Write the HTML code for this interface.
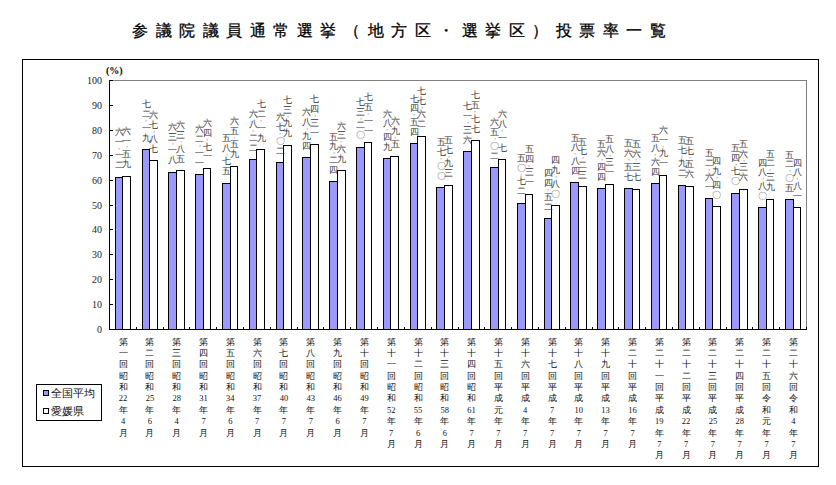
<!DOCTYPE html><html lang="ja"><head><meta charset="utf-8"><style>

*{margin:0;padding:0;box-sizing:border-box}
html,body{width:836px;height:485px;background:#fff;overflow:hidden}
body{position:relative;font-family:"Liberation Sans",sans-serif;color:#000}
.a{position:absolute}
.tc{position:absolute;top:21px;font-size:16px;font-weight:normal;-webkit-text-stroke:0.3px #000;line-height:20px;white-space:nowrap}
.frame{position:absolute;left:22px;top:59px;width:797px;height:408px;border:1px solid #000}
.plot{position:absolute;left:109px;top:80px;width:698px;height:250px;border-top:1px solid #808080;border-right:1px solid #808080}
.yax{position:absolute;left:109px;top:80px;width:1px;height:250px;background:#000}
.xax{position:absolute;left:109px;top:329px;width:698px;height:1px;background:#000}
.yt{position:absolute;left:110px;width:3px;height:1px;background:#000}
.xt{position:absolute;top:327px;width:1px;height:2px;background:#000}
.yl{position:absolute;left:70px;width:32px;text-align:right;font-family:"Liberation Serif",serif;font-size:10px;line-height:10px;color:#222}
.bar{position:absolute;border:1px solid #000}
.b1{background:#9999ff}
.b2{background:#fff}
.vl{position:absolute;width:12px;text-align:center;font-size:8.5px;color:#333}
.vl div{height:9.9px;line-height:9.9px}
.vl div.d{height:3.8px;line-height:3.8px;font-size:6px}
.cl{position:absolute;top:336.5px;width:20px;text-align:center;font-family:"Liberation Serif",serif;font-size:8.5px;color:#111}
.cl div{height:11.4px;line-height:11.4px}
.pct{position:absolute;left:106px;top:65px;font-family:"Liberation Serif",serif;font-weight:bold;font-size:10px;line-height:12px}
.legend{position:absolute;left:36px;top:384px;width:66px;height:37px;border:1px solid #000}
.sw{position:absolute;left:43px;width:6px;height:6px;border:1px solid #000}
.lt{position:absolute;left:51px;font-size:11px;line-height:12px;color:#111}

</style></head><body>
<div class="tc" style="left:132.2px">参</div><div class="tc" style="left:155.7px">議</div><div class="tc" style="left:179.3px">院</div><div class="tc" style="left:202.8px">議</div><div class="tc" style="left:226.3px">員</div><div class="tc" style="left:249.8px">通</div><div class="tc" style="left:273.4px">常</div><div class="tc" style="left:296.9px">選</div><div class="tc" style="left:320.4px">挙</div><div class="tc" style="left:344.0px">（</div><div class="tc" style="left:367.5px">地</div><div class="tc" style="left:391.0px">方</div><div class="tc" style="left:414.6px">区</div><div class="tc" style="left:438.1px">・</div><div class="tc" style="left:461.6px">選</div><div class="tc" style="left:485.2px">挙</div><div class="tc" style="left:508.7px">区</div><div class="tc" style="left:532.2px">）</div><div class="tc" style="left:555.7px">投</div><div class="tc" style="left:579.3px">票</div><div class="tc" style="left:602.8px">率</div><div class="tc" style="left:626.3px">一</div><div class="tc" style="left:649.9px">覧</div>
<div class="frame"></div>
<div class="plot"></div>
<div class="pct">(%)</div>
<div class="yt" style="top:329px"></div>
<div class="yl" style="top:324.5px">0</div>
<div class="yt" style="top:304px"></div>
<div class="yl" style="top:299.5px">10</div>
<div class="yt" style="top:279px"></div>
<div class="yl" style="top:274.5px">20</div>
<div class="yt" style="top:254px"></div>
<div class="yl" style="top:249.5px">30</div>
<div class="yt" style="top:229px"></div>
<div class="yl" style="top:224.5px">40</div>
<div class="yt" style="top:205px"></div>
<div class="yl" style="top:200.5px">50</div>
<div class="yt" style="top:180px"></div>
<div class="yl" style="top:175.5px">60</div>
<div class="yt" style="top:155px"></div>
<div class="yl" style="top:150.5px">70</div>
<div class="yt" style="top:130px"></div>
<div class="yl" style="top:125.5px">80</div>
<div class="yt" style="top:105px"></div>
<div class="yl" style="top:100.5px">90</div>
<div class="yt" style="top:80px"></div>
<div class="yl" style="top:75.5px">100</div>
<div class="xt" style="left:136px"></div>
<div class="xt" style="left:163px"></div>
<div class="xt" style="left:189px"></div>
<div class="xt" style="left:216px"></div>
<div class="xt" style="left:243px"></div>
<div class="xt" style="left:270px"></div>
<div class="xt" style="left:297px"></div>
<div class="xt" style="left:323px"></div>
<div class="xt" style="left:350px"></div>
<div class="xt" style="left:377px"></div>
<div class="xt" style="left:404px"></div>
<div class="xt" style="left:431px"></div>
<div class="xt" style="left:458px"></div>
<div class="xt" style="left:484px"></div>
<div class="xt" style="left:511px"></div>
<div class="xt" style="left:538px"></div>
<div class="xt" style="left:565px"></div>
<div class="xt" style="left:592px"></div>
<div class="xt" style="left:618px"></div>
<div class="xt" style="left:645px"></div>
<div class="xt" style="left:672px"></div>
<div class="xt" style="left:699px"></div>
<div class="xt" style="left:726px"></div>
<div class="xt" style="left:752px"></div>
<div class="xt" style="left:779px"></div>
<div class="xt" style="left:806px"></div>
<div class="bar b1" style="left:115px;top:177px;width:8px;height:153px"></div>
<div class="bar b2" style="left:122px;top:176px;width:9px;height:154px"></div>
<div class="vl" style="left:113.3px;top:127.9px"><div>六</div><div>一</div><div class="d">・</div><div>一</div><div>二</div></div>
<div class="vl" style="left:120.9px;top:126.7px"><div>六</div><div>一</div><div class="d">・</div><div>五</div><div>九</div></div>
<div class="cl" style="left:113.1px"><div>第</div><div>一</div><div>回</div><div>昭</div><div>和</div><div>22</div><div>年</div><div>4</div><div>月</div></div>
<div class="bar b1" style="left:142px;top:149px;width:8px;height:181px"></div>
<div class="bar b2" style="left:149px;top:160px;width:9px;height:170px"></div>
<div class="vl" style="left:140.1px;top:100.3px"><div>七</div><div>二</div><div class="d">・</div><div>一</div><div>九</div></div>
<div class="vl" style="left:147.7px;top:111.1px"><div>六</div><div>七</div><div class="d">・</div><div>八</div><div>七</div></div>
<div class="cl" style="left:139.9px"><div>第</div><div>二</div><div>回</div><div>昭</div><div>和</div><div>25</div><div>年</div><div>6</div><div>月</div></div>
<div class="bar b1" style="left:168px;top:172px;width:9px;height:158px"></div>
<div class="bar b2" style="left:176px;top:170px;width:9px;height:160px"></div>
<div class="vl" style="left:166.9px;top:122.8px"><div>六</div><div>三</div><div class="d">・</div><div>一</div><div>八</div></div>
<div class="vl" style="left:174.5px;top:121.1px"><div>六</div><div>三</div><div class="d">・</div><div>八</div><div>五</div></div>
<div class="cl" style="left:166.7px"><div>第</div><div>三</div><div>回</div><div>昭</div><div>和</div><div>28</div><div>年</div><div>4</div><div>月</div></div>
<div class="bar b1" style="left:195px;top:174px;width:9px;height:156px"></div>
<div class="bar b2" style="left:203px;top:168px;width:8px;height:162px"></div>
<div class="vl" style="left:193.7px;top:125.4px"><div>六</div><div>二</div><div class="d">・</div><div>一</div><div>一</div></div>
<div class="vl" style="left:201.4px;top:119.0px"><div>六</div><div>四</div><div class="d">・</div><div>七</div><div>一</div></div>
<div class="cl" style="left:193.5px"><div>第</div><div>四</div><div>回</div><div>昭</div><div>和</div><div>31</div><div>年</div><div>7</div><div>月</div></div>
<div class="bar b1" style="left:222px;top:183px;width:9px;height:147px"></div>
<div class="bar b2" style="left:230px;top:166px;width:8px;height:164px"></div>
<div class="vl" style="left:220.5px;top:133.8px"><div>五</div><div>八</div><div class="d">・</div><div>七</div><div>五</div></div>
<div class="vl" style="left:228.2px;top:116.8px"><div>六</div><div>五</div><div class="d">・</div><div>五</div><div>九</div></div>
<div class="cl" style="left:220.3px"><div>第</div><div>五</div><div>回</div><div>昭</div><div>和</div><div>34</div><div>年</div><div>6</div><div>月</div></div>
<div class="bar b1" style="left:249px;top:159px;width:8px;height:171px"></div>
<div class="bar b2" style="left:256px;top:149px;width:9px;height:181px"></div>
<div class="vl" style="left:247.3px;top:110.2px"><div>六</div><div>八</div><div class="d">・</div><div>二</div><div>二</div></div>
<div class="vl" style="left:255.0px;top:100.3px"><div>七</div><div>二</div><div class="d">・</div><div>一</div><div>九</div></div>
<div class="cl" style="left:247.1px"><div>第</div><div>六</div><div>回</div><div>昭</div><div>和</div><div>37</div><div>年</div><div>7</div><div>月</div></div>
<div class="bar b1" style="left:276px;top:162px;width:8px;height:168px"></div>
<div class="bar b2" style="left:283px;top:145px;width:9px;height:185px"></div>
<div class="vl" style="left:274.1px;top:113.2px"><div>六</div><div>七</div><div class="d">・</div><div>〇</div><div>二</div></div>
<div class="vl" style="left:281.8px;top:95.9px"><div>七</div><div>三</div><div class="d">・</div><div>九</div><div>九</div></div>
<div class="cl" style="left:273.9px"><div>第</div><div>七</div><div>回</div><div>昭</div><div>和</div><div>40</div><div>年</div><div>7</div><div>月</div></div>
<div class="bar b1" style="left:302px;top:157px;width:9px;height:173px"></div>
<div class="bar b2" style="left:310px;top:144px;width:9px;height:186px"></div>
<div class="vl" style="left:300.9px;top:108.4px"><div>六</div><div>八</div><div class="d">・</div><div>九</div><div>四</div></div>
<div class="vl" style="left:308.6px;top:95.1px"><div>七</div><div>四</div><div class="d">・</div><div>三</div><div>一</div></div>
<div class="cl" style="left:300.8px"><div>第</div><div>八</div><div>回</div><div>昭</div><div>和</div><div>43</div><div>年</div><div>7</div><div>月</div></div>
<div class="bar b1" style="left:329px;top:181px;width:9px;height:149px"></div>
<div class="bar b2" style="left:337px;top:170px;width:9px;height:160px"></div>
<div class="vl" style="left:327.7px;top:132.6px"><div>五</div><div>九</div><div class="d">・</div><div>二</div><div>四</div></div>
<div class="vl" style="left:335.4px;top:121.5px"><div>六</div><div>三</div><div class="d">・</div><div>六</div><div>九</div></div>
<div class="cl" style="left:327.6px"><div>第</div><div>九</div><div>回</div><div>昭</div><div>和</div><div>46</div><div>年</div><div>6</div><div>月</div></div>
<div class="bar b1" style="left:356px;top:147px;width:9px;height:183px"></div>
<div class="bar b2" style="left:364px;top:142px;width:8px;height:188px"></div>
<div class="vl" style="left:354.5px;top:97.8px"><div>七</div><div>三</div><div class="d">・</div><div>二</div><div>〇</div></div>
<div class="vl" style="left:362.2px;top:93.1px"><div>七</div><div>五</div><div class="d">・</div><div>一</div><div>一</div></div>
<div class="cl" style="left:354.4px"><div>第</div><div>十</div><div>回</div><div>昭</div><div>和</div><div>49</div><div>年</div><div>7</div><div>月</div></div>
<div class="bar b1" style="left:383px;top:158px;width:8px;height:172px"></div>
<div class="bar b2" style="left:390px;top:156px;width:9px;height:174px"></div>
<div class="vl" style="left:381.4px;top:109.6px"><div>六</div><div>八</div><div class="d">・</div><div>四</div><div>九</div></div>
<div class="vl" style="left:389.0px;top:116.9px"><div>六</div><div>九</div><div class="d">・</div><div>五</div></div>
<div class="cl" style="left:381.2px"><div>第</div><div>十</div><div>一</div><div>回</div><div>昭</div><div>和</div><div>52</div><div>年</div><div>7</div><div>月</div></div>
<div class="bar b1" style="left:410px;top:143px;width:8px;height:187px"></div>
<div class="bar b2" style="left:417px;top:136px;width:9px;height:194px"></div>
<div class="vl" style="left:408.2px;top:94.5px"><div>七</div><div>四</div><div class="d">・</div><div>五</div><div>四</div></div>
<div class="vl" style="left:415.8px;top:86.8px"><div>七</div><div>七</div><div class="d">・</div><div>六</div><div>二</div></div>
<div class="cl" style="left:408.0px"><div>第</div><div>十</div><div>二</div><div>回</div><div>昭</div><div>和</div><div>55</div><div>年</div><div>6</div><div>月</div></div>
<div class="bar b1" style="left:436px;top:187px;width:9px;height:143px"></div>
<div class="bar b2" style="left:444px;top:185px;width:9px;height:145px"></div>
<div class="vl" style="left:435.0px;top:138.2px"><div>五</div><div>七</div><div class="d">・</div><div>〇</div><div>〇</div></div>
<div class="vl" style="left:442.6px;top:135.9px"><div>五</div><div>七</div><div class="d">・</div><div>九</div><div>三</div></div>
<div class="cl" style="left:434.8px"><div>第</div><div>十</div><div>三</div><div>回</div><div>昭</div><div>和</div><div>58</div><div>年</div><div>6</div><div>月</div></div>
<div class="bar b1" style="left:463px;top:151px;width:9px;height:179px"></div>
<div class="bar b2" style="left:471px;top:140px;width:9px;height:190px"></div>
<div class="vl" style="left:461.8px;top:102.4px"><div>七</div><div>一</div><div class="d">・</div><div>三</div><div>六</div></div>
<div class="vl" style="left:469.4px;top:91.4px"><div>七</div><div>五</div><div class="d">・</div><div>七</div><div>七</div></div>
<div class="cl" style="left:461.6px"><div>第</div><div>十</div><div>四</div><div>回</div><div>昭</div><div>和</div><div>61</div><div>年</div><div>7</div><div>月</div></div>
<div class="bar b1" style="left:490px;top:167px;width:9px;height:163px"></div>
<div class="bar b2" style="left:498px;top:159px;width:8px;height:171px"></div>
<div class="vl" style="left:488.6px;top:118.2px"><div>六</div><div>五</div><div class="d">・</div><div>〇</div><div>二</div></div>
<div class="vl" style="left:496.2px;top:110.4px"><div>六</div><div>八</div><div class="d">・</div><div>一</div><div>七</div></div>
<div class="cl" style="left:488.4px"><div>第</div><div>十</div><div>五</div><div>回</div><div>平</div><div>成</div><div>元</div><div>年</div><div>7</div><div>月</div></div>
<div class="bar b1" style="left:517px;top:203px;width:9px;height:127px"></div>
<div class="bar b2" style="left:525px;top:194px;width:8px;height:136px"></div>
<div class="vl" style="left:515.4px;top:153.8px"><div>五</div><div>〇</div><div class="d">・</div><div>七</div><div>二</div></div>
<div class="vl" style="left:523.0px;top:144.9px"><div>五</div><div>四</div><div class="d">・</div><div>三</div><div>一</div></div>
<div class="cl" style="left:515.2px"><div>第</div><div>十</div><div>六</div><div>回</div><div>平</div><div>成</div><div>4</div><div>年</div><div>7</div><div>月</div></div>
<div class="bar b1" style="left:544px;top:218px;width:8px;height:112px"></div>
<div class="bar b2" style="left:551px;top:205px;width:9px;height:125px"></div>
<div class="vl" style="left:542.2px;top:169.2px"><div>四</div><div>四</div><div class="d">・</div><div>五</div><div>二</div></div>
<div class="vl" style="left:549.9px;top:156.1px"><div>四</div><div>九</div><div class="d">・</div><div>八</div><div>〇</div></div>
<div class="cl" style="left:542.0px"><div>第</div><div>十</div><div>七</div><div>回</div><div>平</div><div>成</div><div>7</div><div>年</div><div>7</div><div>月</div></div>
<div class="bar b1" style="left:570px;top:182px;width:9px;height:148px"></div>
<div class="bar b2" style="left:578px;top:186px;width:9px;height:144px"></div>
<div class="vl" style="left:569.0px;top:133.6px"><div>五</div><div>八</div><div class="d">・</div><div>八</div><div>四</div></div>
<div class="vl" style="left:576.7px;top:137.6px"><div>五</div><div>七</div><div class="d">・</div><div>二</div><div>三</div></div>
<div class="cl" style="left:568.8px"><div>第</div><div>十</div><div>八</div><div>回</div><div>平</div><div>成</div><div>10</div><div>年</div><div>7</div><div>月</div></div>
<div class="bar b1" style="left:597px;top:188px;width:9px;height:142px"></div>
<div class="bar b2" style="left:605px;top:184px;width:9px;height:146px"></div>
<div class="vl" style="left:595.8px;top:139.6px"><div>五</div><div>六</div><div class="d">・</div><div>四</div><div>四</div></div>
<div class="vl" style="left:603.5px;top:134.9px"><div>五</div><div>八</div><div class="d">・</div><div>三</div><div>一</div></div>
<div class="cl" style="left:595.6px"><div>第</div><div>十</div><div>九</div><div>回</div><div>平</div><div>成</div><div>13</div><div>年</div><div>7</div><div>月</div></div>
<div class="bar b1" style="left:624px;top:188px;width:9px;height:142px"></div>
<div class="bar b2" style="left:632px;top:189px;width:8px;height:141px"></div>
<div class="vl" style="left:622.6px;top:139.2px"><div>五</div><div>六</div><div class="d">・</div><div>五</div><div>七</div></div>
<div class="vl" style="left:630.3px;top:139.7px"><div>五</div><div>六</div><div class="d">・</div><div>三</div><div>七</div></div>
<div class="cl" style="left:622.5px"><div>第</div><div>二</div><div>十</div><div>回</div><div>平</div><div>成</div><div>16</div><div>年</div><div>7</div><div>月</div></div>
<div class="bar b1" style="left:651px;top:183px;width:9px;height:147px"></div>
<div class="bar b2" style="left:659px;top:175px;width:8px;height:155px"></div>
<div class="vl" style="left:649.4px;top:134.1px"><div>五</div><div>八</div><div class="d">・</div><div>六</div><div>四</div></div>
<div class="vl" style="left:657.1px;top:125.9px"><div>六</div><div>一</div><div class="d">・</div><div>九</div><div>一</div></div>
<div class="cl" style="left:649.3px"><div>第</div><div>二</div><div>十</div><div>一</div><div>回</div><div>平</div><div>成</div><div>19</div><div>年</div><div>7</div><div>月</div></div>
<div class="bar b1" style="left:678px;top:185px;width:8px;height:145px"></div>
<div class="bar b2" style="left:685px;top:186px;width:9px;height:144px"></div>
<div class="vl" style="left:676.2px;top:135.9px"><div>五</div><div>七</div><div class="d">・</div><div>九</div><div>二</div></div>
<div class="vl" style="left:683.9px;top:136.8px"><div>五</div><div>七</div><div class="d">・</div><div>五</div><div>六</div></div>
<div class="cl" style="left:676.1px"><div>第</div><div>二</div><div>十</div><div>二</div><div>回</div><div>平</div><div>成</div><div>22</div><div>年</div><div>7</div><div>月</div></div>
<div class="bar b1" style="left:705px;top:198px;width:8px;height:132px"></div>
<div class="bar b2" style="left:712px;top:206px;width:9px;height:124px"></div>
<div class="vl" style="left:703.0px;top:149.1px"><div>五</div><div>二</div><div class="d">・</div><div>六</div><div>一</div></div>
<div class="vl" style="left:710.7px;top:157.1px"><div>四</div><div>九</div><div class="d">・</div><div>四</div><div>〇</div></div>
<div class="cl" style="left:702.9px"><div>第</div><div>二</div><div>十</div><div>三</div><div>回</div><div>平</div><div>成</div><div>25</div><div>年</div><div>7</div><div>月</div></div>
<div class="bar b1" style="left:731px;top:193px;width:9px;height:137px"></div>
<div class="bar b2" style="left:739px;top:189px;width:9px;height:141px"></div>
<div class="vl" style="left:729.9px;top:143.9px"><div>五</div><div>四</div><div class="d">・</div><div>七</div><div>〇</div></div>
<div class="vl" style="left:737.5px;top:139.8px"><div>五</div><div>六</div><div class="d">・</div><div>三</div><div>六</div></div>
<div class="cl" style="left:729.7px"><div>第</div><div>二</div><div>十</div><div>四</div><div>回</div><div>平</div><div>成</div><div>28</div><div>年</div><div>7</div><div>月</div></div>
<div class="bar b1" style="left:758px;top:207px;width:9px;height:123px"></div>
<div class="bar b2" style="left:766px;top:199px;width:8px;height:131px"></div>
<div class="vl" style="left:756.7px;top:158.6px"><div>四</div><div>八</div><div class="d">・</div><div>八</div><div>〇</div></div>
<div class="vl" style="left:764.3px;top:149.6px"><div>五</div><div>二</div><div class="d">・</div><div>三</div><div>九</div></div>
<div class="cl" style="left:756.5px"><div>第</div><div>二</div><div>十</div><div>五</div><div>回</div><div>令</div><div>和</div><div>元</div><div>年</div><div>7</div><div>月</div></div>
<div class="bar b1" style="left:785px;top:199px;width:9px;height:131px"></div>
<div class="bar b2" style="left:793px;top:207px;width:8px;height:123px"></div>
<div class="vl" style="left:783.5px;top:150.5px"><div>五</div><div>二</div><div class="d">・</div><div>〇</div><div>五</div></div>
<div class="vl" style="left:791.1px;top:158.6px"><div>四</div><div>八</div><div class="d">・</div><div>八</div><div>一</div></div>
<div class="cl" style="left:783.3px"><div>第</div><div>二</div><div>十</div><div>六</div><div>回</div><div>令</div><div>和</div><div>4</div><div>年</div><div>7</div><div>月</div></div>
<div class="yax"></div><div class="xax"></div>
<div class="legend"></div>
<div class="sw b1" style="top:390px"></div><div class="lt" style="top:387px">全国平均</div>
<div class="sw b2" style="top:408px"></div><div class="lt" style="top:405px">愛媛県</div>
</body></html>
